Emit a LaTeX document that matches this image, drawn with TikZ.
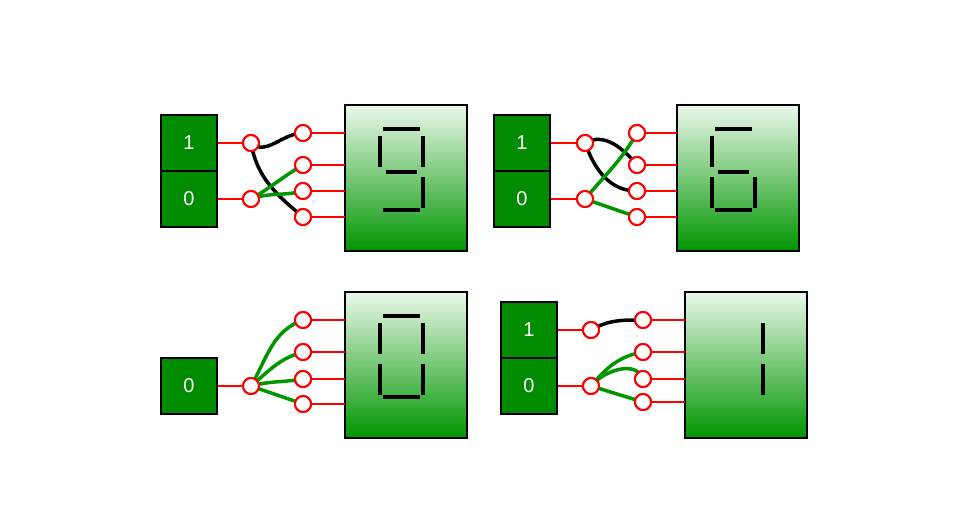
\documentclass[tikz,border=0pt]{standalone}
\usepackage{fontspec}
\setmainfont{Liberation Sans}
\begin{document}
\begin{tikzpicture}[x=1pt,y=-1pt,
  inbox/.style={draw=black,line width=2pt,fill={rgb,255:red,0;green,140;blue,0},text=white,minimum width=56pt,minimum height=56pt,inner sep=0pt,font=\fontsize{20}{22}\selectfont},
  pin/.style={circle,draw=red,fill=white,line width=2pt,minimum size=16pt,inner sep=0pt},
  redw/.style={draw=red,line width=2pt},
  blk/.style={draw=black,line width=3.5pt},
  grn/.style={draw={rgb,255:red,0;green,150;blue,0},line width=3.5pt},
  seg/.style={draw=black,line width=3.8pt}]
\useasboundingbox (0,0) rectangle (976,524);
\newcommand{\disp}[3]{% name, left, top
  \fill[top color={rgb,255:red,235;green,248;blue,235},bottom color={rgb,255:red,0;green,150;blue,0}] (#2,#3) rectangle ++(122,146);
  \draw[line width=2pt] (#2,#3) rectangle ++(122,146);
  \coordinate (#1) at (#2,#3);}
\newcommand{\sg}[2]{% disp origin, segment
  \ifcase#2\relax
    \draw[seg] ([shift={(38,24)}]#1) -- ++(37,0);\or
    \draw[seg] ([shift={(35,31)}]#1) -- ++(0,31);\or
    \draw[seg] ([shift={(78,31)}]#1) -- ++(0,31);\or
    \draw[seg] ([shift={(41,67)}]#1) -- ++(31,0);\or
    \draw[seg] ([shift={(35,72)}]#1) -- ++(0,31);\or
    \draw[seg] ([shift={(78,72)}]#1) -- ++(0,31);\or
    \draw[seg] ([shift={(38,105)}]#1) -- ++(37,0);\fi}
% ---------- panel 1
\node[inbox] (a1) at (189,143) {1};
\node[inbox] (a0) at (189,199) {0};
\disp{D1}{345}{105}
\node[pin] (p1l1) at (251,143) {};
\node[pin] (p1l0) at (251,199) {};
\node[pin] (p1r1) at (303,133) {};
\node[pin] (p1r2) at (303,165) {};
\node[pin] (p1r3) at (303,191) {};
\node[pin] (p1r4) at (303,217) {};
\draw[redw] (a1.east) -- (p1l1.west);
\draw[redw] (a0.east) -- (p1l0.west);
\foreach \i in {1,2,3,4} {\draw[redw] (p1r\i.east) -- (p1r\i.east -| D1);}
\draw[blk] (p1l1.center) to[out=-40,in=180] (p1r1.center);
\draw[blk] (p1l1.center) to[out=-80,in=140] (p1r4.center);
\draw[grn] (p1l0.center) to[out=30,in=210] (p1r2.center);
\draw[grn] (p1l0.center) to[out=20,in=195] (p1r3.center);
\foreach \n in {p1l1,p1l0,p1r1,p1r2,p1r3,p1r4} {\node[pin] at (\n) {};}
\foreach \s in {0,1,2,3,5,6} {\sg{D1}{\s}}
% ---------- panel 2
\node[inbox] (b1) at (522,143) {1};
\node[inbox] (b0) at (522,199) {0};
\disp{D2}{677}{105}
\node[pin] (p2l1) at (585,143) {};
\node[pin] (p2l0) at (585,199) {};
\node[pin] (p2r1) at (637,133) {};
\node[pin] (p2r2) at (637,165) {};
\node[pin] (p2r3) at (637,191) {};
\node[pin] (p2r4) at (637,217) {};
\draw[redw] (b1.east) -- (p2l1.west);
\draw[redw] (b0.east) -- (p2l0.west);
\foreach \i in {1,2,3,4} {\draw[redw] (p2r\i.east) -- (p2r\i.east -| D2);}
\draw[blk] (p2l1.center) to[out=30,in=130] (p2r2.center);
\draw[blk] (p2l1.center) to[out=-70,in=180] (p2r3.center);
\draw[grn] (p2l0.center) to[out=50,in=240] (p2r1.center);
\draw[grn] (p2l0.center) -- (p2r4.center);
\foreach \n in {p2l1,p2l0,p2r1,p2r2,p2r3,p2r4} {\node[pin] at (\n) {};}
\foreach \s in {0,1,3,4,5,6} {\sg{D2}{\s}}
% ---------- panel 3
\node[inbox] (c0) at (189,386) {0};
\disp{D3}{345}{292}
\node[pin] (p3l0) at (251,386) {};
\node[pin] (p3r1) at (303,320) {};
\node[pin] (p3r2) at (303,352) {};
\node[pin] (p3r3) at (303,379) {};
\node[pin] (p3r4) at (303,404) {};
\draw[redw] (c0.east) -- (p3l0.west);
\foreach \i in {1,2,3,4} {\draw[redw] (p3r\i.east) -- (p3r\i.east -| D3);}
\draw[grn] (p3l0.center) to[out=60,in=200] (p3r1.center);
\draw[grn] (p3l0.center) to[out=40,in=195] (p3r2.center);
\draw[grn] (p3l0.center) to[out=15,in=190] (p3r3.center);
\draw[grn] (p3l0.center) -- (p3r4.center);
\foreach \n in {p3l0,p3r1,p3r2,p3r3,p3r4} {\node[pin] at (\n) {};}
\foreach \s in {0,1,2,4,5,6} {\sg{D3}{\s}}
% ---------- panel 4
\node[inbox] (e1) at (529,330) {1};
\node[inbox] (e0) at (529,386) {0};
\disp{D4}{685}{292}
\node[pin] (p4l1) at (591,330) {};
\node[pin] (p4l0) at (591,386) {};
\node[pin] (p4r1) at (643,320) {};
\node[pin] (p4r2) at (643,352) {};
\node[pin] (p4r3) at (643,379) {};
\node[pin] (p4r4) at (643,402) {};
\draw[redw] (e1.east) -- (p4l1.west);
\draw[redw] (e0.east) -- (p4l0.west);
\foreach \i in {1,2,3,4} {\draw[redw] (p4r\i.east) -- (p4r\i.east -| D4);}
\draw[blk] (p4l1.center) to[out=30,in=180] (p4r1.center);
\draw[grn] (p4l0.center) to[out=50,in=190] (p4r2.center);
\draw[grn] (p4l0.center) to[out=50,in=110] (p4r3.center);
\draw[grn] (p4l0.center) -- (p4r4.center);
\foreach \n in {p4l1,p4l0,p4r1,p4r2,p4r3,p4r4} {\node[pin] at (\n) {};}
\foreach \s in {2,5} {\sg{D4}{\s}}
\end{tikzpicture}
\end{document}
